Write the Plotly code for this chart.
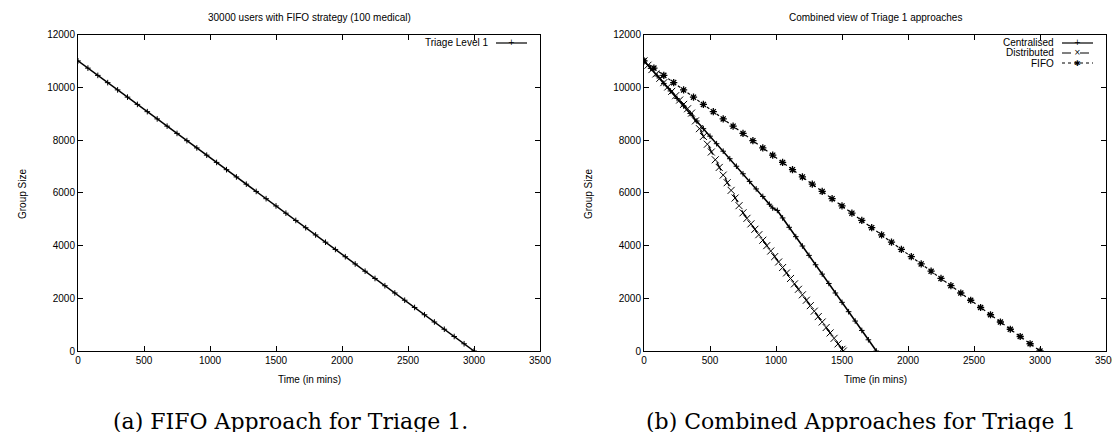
import plotly.graph_objects as go

# ---------------- data ----------------
fifo_t = [0, 75, 150, 225, 300, 375, 450, 525, 600, 675, 750, 825, 900, 975, 1050, 1125,
          1200, 1275, 1350, 1425, 1500, 1575, 1650, 1725, 1800, 1875, 1950, 2025, 2100,
          2175, 2250, 2325, 2400, 2475, 2550, 2625, 2700, 2775, 2850, 2925, 3000]
fifo_v = [11000, 10725, 10450, 10175, 9900, 9625, 9350, 9075, 8800, 8525, 8250, 7975, 7700,
          7425, 7150, 6875, 6600, 6325, 6050, 5775, 5500, 5225, 4950, 4675, 4400, 4125, 3850,
          3575, 3300, 3025, 2750, 2475, 2200, 1925, 1650, 1375, 1100, 825, 550, 275, 0]

cent_t = [0, 50, 100, 150, 200, 250, 300, 350, 400, 450, 500, 550, 600, 650, 700, 750, 800,
          850, 900, 950, 975, 1010, 1050, 1100, 1150, 1200, 1250, 1300, 1350, 1400, 1450,
          1500, 1550, 1600, 1650, 1700, 1760]
cent_v = [11000, 10715, 10430, 10145, 9860, 9575, 9290, 9005, 8720, 8430, 8145, 7860, 7575,
          7290, 7005, 6720, 6430, 6145, 5860, 5565, 5420, 5330, 5045, 4690, 4335, 3980, 3625,
          3270, 2915, 2560, 2200, 1845, 1490, 1135, 780, 425, 0]

dist_t = [0, 30, 60, 90, 120, 150, 180, 210, 240, 270, 300, 330, 360, 390, 420, 450, 480,
          510, 540, 570, 600, 630, 660, 690, 720, 750, 780, 810, 840, 870, 900, 930, 960,
          990, 1020, 1050, 1080, 1110, 1140, 1170, 1200, 1230, 1260, 1290, 1320, 1350, 1380,
          1410, 1440, 1470, 1500, 1510]
dist_v = [11000, 10835, 10670, 10505, 10340, 10175, 10010, 9845, 9680, 9515, 9350, 9185,
          9020, 8725, 8430, 8135, 7840, 7545, 7250, 6960, 6670, 6380, 6090, 5800, 5510, 5240,
          5030, 4820, 4615, 4410, 4200, 3995, 3790, 3580, 3375, 3165, 2960, 2750, 2545, 2340,
          2130, 1925, 1720, 1510, 1305, 1100, 890, 685, 480, 270, 65, 0]

x_ticks = [0, 500, 1000, 1500, 2000, 2500, 3000, 3500]
y_ticks = [0, 2000, 4000, 6000, 8000, 10000, 12000]
y_tick_text = ["0", "2000", "4000", "6000", "8000", "10000", "12000"]

# ---------------- figure ----------------
W, H = 1120, 432
SANS = "Liberation Sans, Arial, sans-serif"
font = dict(family=SANS, size=10, color="black")

fig = go.Figure()

fig.add_trace(go.Scatter(x=fifo_t, y=fifo_v, mode="lines+markers", name="Triage Level 1",
                         line=dict(color="black", width=1.5),
                         marker=dict(symbol="cross-thin-open", size=4,
                                     line=dict(color="black", width=1)),
                         xaxis="x", yaxis="y", showlegend=False))

fig.add_trace(go.Scatter(x=cent_t, y=cent_v, mode="lines+markers", name="Centralised",
                         line=dict(color="black", width=1.6),
                         marker=dict(symbol="cross-thin-open", size=4,
                                     line=dict(color="black", width=1)),
                         xaxis="x2", yaxis="y2", showlegend=False))
fig.add_trace(go.Scatter(x=dist_t, y=dist_v, mode="lines+markers", name="Distributed",
                         line=dict(color="black", width=1.3, dash="dash"),
                         marker=dict(symbol="x-thin-open", size=7,
                                     line=dict(color="black", width=1)),
                         xaxis="x2", yaxis="y2", showlegend=False))
fig.add_trace(go.Scatter(x=fifo_t, y=fifo_v, mode="lines+markers", name="FIFO",
                         line=dict(color="black", width=1.2, dash="dot"),
                         marker=dict(symbol="asterisk-open", size=6,
                                     line=dict(color="black", width=1.3)),
                         xaxis="x2", yaxis="y2", showlegend=False))


def xax(domain, anchor):
    return dict(domain=domain, anchor=anchor, range=[0, 3500], tickvals=x_ticks,
                ticks="inside", ticklen=5, tickcolor="black", showline=True,
                linecolor="black", linewidth=1, mirror="allticks", showgrid=False,
                zeroline=False, tickfont=font, automargin=False)


def yax(domain, anchor):
    return dict(domain=domain, anchor=anchor, range=[0, 12000], tickvals=y_ticks,
                ticktext=y_tick_text, ticks="inside", ticklen=5, tickcolor="black",
                showline=True, linecolor="black", linewidth=1, mirror="allticks",
                showgrid=False, zeroline=False, tickfont=font, automargin=False)


PL, PR = [70, 636], [532, 1098]
PT, PB = 26.5, 343
ydom = [1 - PB / H, 1 - PT / H]
xdom1 = [PL[0] / W, PR[0] / W]
xdom2 = [PL[1] / W, PR[1] / W]


def px(xp):
    return xp / W


def py(yp):
    return 1 - yp / H


annotations = []
shapes = []
titles = ["30000 users with FIFO strategy (100 medical)", "Combined view of Triage 1 approaches"]
captions = ["(a) FIFO Approach for Triage 1.", "(b) Combined Approaches for Triage 1"]
cap_x = [282, 853]
for i in range(2):
    cx = (PL[i] + PR[i]) / 2
    annotations.append(dict(text=titles[i], x=px(cx), y=py(10), xref="paper", yref="paper",
                            showarrow=False, font=font, xanchor="center", yanchor="middle"))
    annotations.append(dict(text="Time (in mins)", x=px(cx), y=py(371), xref="paper",
                            yref="paper", showarrow=False, font=font, xanchor="center",
                            yanchor="middle"))
    annotations.append(dict(text="Group Size", x=px(PL[i] - 56), y=py(186), xref="paper",
                            yref="paper", showarrow=False, font=font, textangle=-90,
                            xanchor="center", yanchor="middle"))
    annotations.append(dict(text=captions[i], x=px(cap_x[i]), y=py(413), xref="paper",
                            yref="paper", showarrow=False,
                            font=dict(family="DejaVu Serif, serif", size=22, color="black"),
                            xanchor="center", yanchor="middle"))

# gnuplot-style keys (text right-aligned, sample to the right)
legend_rows = [
    (0, "Triage Level 1", 35, "solid", "+"),
    (1, "Centralised", 35, "solid", "+"),
    (1, "Distributed", 45, "dash", "×"),
    (1, "FIFO", 55, "dot", "✱"),
]
for panel, label, yrow, dash, glyph in legend_rows:
    xr = PR[panel]
    annotations.append(dict(text=label, x=px(xr - 50), y=py(yrow), xref="paper", yref="paper",
                            showarrow=False, font=font, xanchor="right", yanchor="middle"))
    shapes.append(dict(type="line", xref="paper", yref="paper", x0=px(xr - 44), x1=px(xr - 13),
                       y0=py(yrow), y1=py(yrow),
                       line=dict(color="black", width=1.2 if dash == "solid" else 1, dash=dash)))
    annotations.append(dict(text=glyph, x=px(xr - 28.5), y=py(yrow), xref="paper", yref="paper",
                            showarrow=False,
                            font=dict(family="DejaVu Sans, sans-serif", size=8, color="black"),
                            xanchor="center", yanchor="middle"))

fig.update_layout(
    width=W, height=H, margin=dict(l=0, r=0, t=0, b=0),
    paper_bgcolor="white", plot_bgcolor="white",
    xaxis=xax(xdom1, "y"), yaxis=yax(ydom, "x"),
    xaxis2=xax(xdom2, "y2"), yaxis2=yax(ydom, "x2"),
    showlegend=False,
    annotations=annotations, shapes=shapes,
)

fig.write_html("out.html")
